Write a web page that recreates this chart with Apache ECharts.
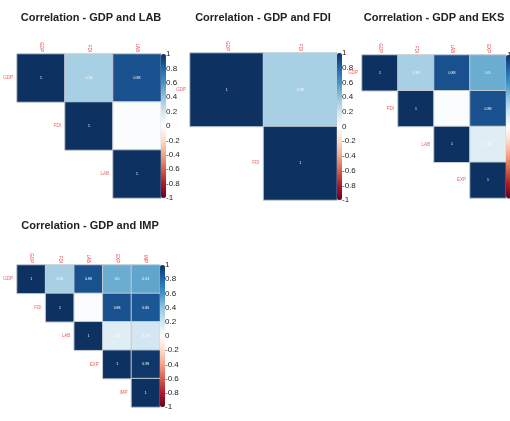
<!DOCTYPE html>
<html><head><meta charset="utf-8">
<script src="https://cdn.jsdelivr.net/npm/echarts@6/dist/echarts.min.js"></script>
<style>html,body{margin:0;padding:0;background:#fff}#c{width:510px;height:421px}</style>
</head><body><div id="c"></div>
<script>
// Variables and upper-triangle correlation rows
const vars = ['GDP', 'FDI', 'LAB', 'EXP', 'IMP'];
const rowGDP = [1, 0.33, 0.88, 0.5, 0.53];
const rowFDI = [1, 0.02, 0.88, 0.86];
const rowLAB = [1, 0.14, 0.19];
const rowEXP = [1, 0.98];
const rowIMP = [1];
const panelTitles = ['Correlation - GDP and LAB', 'Correlation - GDP and FDI', 'Correlation - GDP and EKS', 'Correlation - GDP and IMP'];
const panelSizes = [3, 2, 4, 5];
const colorbarTicks = [-1, 1, 0.2]; // min, max, step
const rdbu = ['#67001F','#B2182B','#D6604D','#F4A582','#FDDBC7','#FFFFFF','#D1E5F0','#92C5DE','#4393C3','#2166AC','#0d3262'];

const rows = [rowGDP, rowFDI, rowLAB, rowEXP, rowIMP];

// layout (positions only)
const layout = [
  {left: 17, top: 54, w: 144, h: 144, tx: 91, ty: 12},
  {left: 190, top: 53, w: 147, h: 147, tx: 263, ty: 12},
  {left: 362, top: 55, w: 144, h: 143, tx: 434, ty: 12},
  {left: 17, top: 265, w: 143, h: 142, tx: 90, ty: 220}
];

const chart = echarts.init(document.getElementById('c'), null, {renderer: 'canvas'});
const FONT = 'Liberation Sans, Arial, sans-serif';
const grid = [], xAxis = [], yAxis = [], series = [], visualMap = [], title = [];

panelSizes.forEach((k, p) => {
  const L = layout[p];
  const cats = vars.slice(0, k);
  const data = [];
  for (let i = 0; i < k; i++) {
    for (let j = i; j < k; j++) {
      data.push([j, i, rows[i][j - i]]);
    }
  }
  title.push({
    text: panelTitles[p], left: L.tx, top: L.ty, textAlign: 'center', padding: 0,
    textStyle: {fontSize: 11, fontWeight: 'bold', color: '#222', fontFamily: FONT}
  });
  // heatmap grid
  const gi = grid.length;
  grid.push({left: L.left, top: L.top, width: L.w, height: L.h});
  xAxis.push({
    type: 'category', data: cats, gridIndex: gi, position: 'top',
    axisLine: {show: false}, axisTick: {show: false}, splitLine: {show: false},
    axisLabel: {rotate: 90, fontSize: 4.5, color: '#ee3333', margin: 2, fontFamily: FONT}
  });
  yAxis.push({
    type: 'category', data: cats, gridIndex: gi, inverse: true, show: false
  });
  const si = series.length;
  series.push({
    type: 'heatmap', xAxisIndex: gi, yAxisIndex: gi, data: data, silent: true,
    itemStyle: {borderColor: '#c3cbd4', borderWidth: 1},
    label: {show: true, color: '#fff', fontSize: 3.5, fontFamily: FONT,
      formatter: prm => String(prm.value[2])}
  });
  // diagonal row labels
  const cell = L.w / k;
  series.push({
    type: 'scatter', xAxisIndex: gi, yAxisIndex: gi, silent: true,
    data: cats.map((c) => [c, c]), symbolSize: cell, itemStyle: {color: 'rgba(0,0,0,0)'},
    label: {show: true, position: 'left', distance: 4, color: '#ee3333', fontSize: 4.5, fontFamily: FONT,
      formatter: prm => cats[prm.dataIndex]}
  });
  visualMap.push({
    type: 'continuous', seriesIndex: si, min: -1, max: 1, calculable: false,
    orient: 'vertical', left: L.left + L.w, top: L.top, itemWidth: 5, itemHeight: L.h,
    padding: 0, text: null, showLabel: false, hoverLink: false,
    inRange: {color: rdbu}
  });
  // colorbar tick labels axis
  const ci = grid.length;
  grid.push({left: L.left + L.w, top: L.top, width: 5, height: L.h});
  xAxis.push({type: 'value', gridIndex: ci, show: false, min: 0, max: 1});
  yAxis.push({
    type: 'value', gridIndex: ci, position: 'right',
    min: colorbarTicks[0], max: colorbarTicks[1], interval: colorbarTicks[2],
    axisLine: {show: false}, axisTick: {show: false}, splitLine: {show: false},
    axisLabel: {fontSize: 8, color: '#222', margin: 0, fontFamily: FONT}
  });
});

chart.setOption({
  animation: false,
  backgroundColor: '#fff',
  title, grid, xAxis, yAxis, series, visualMap
});
</script>
</body></html>
